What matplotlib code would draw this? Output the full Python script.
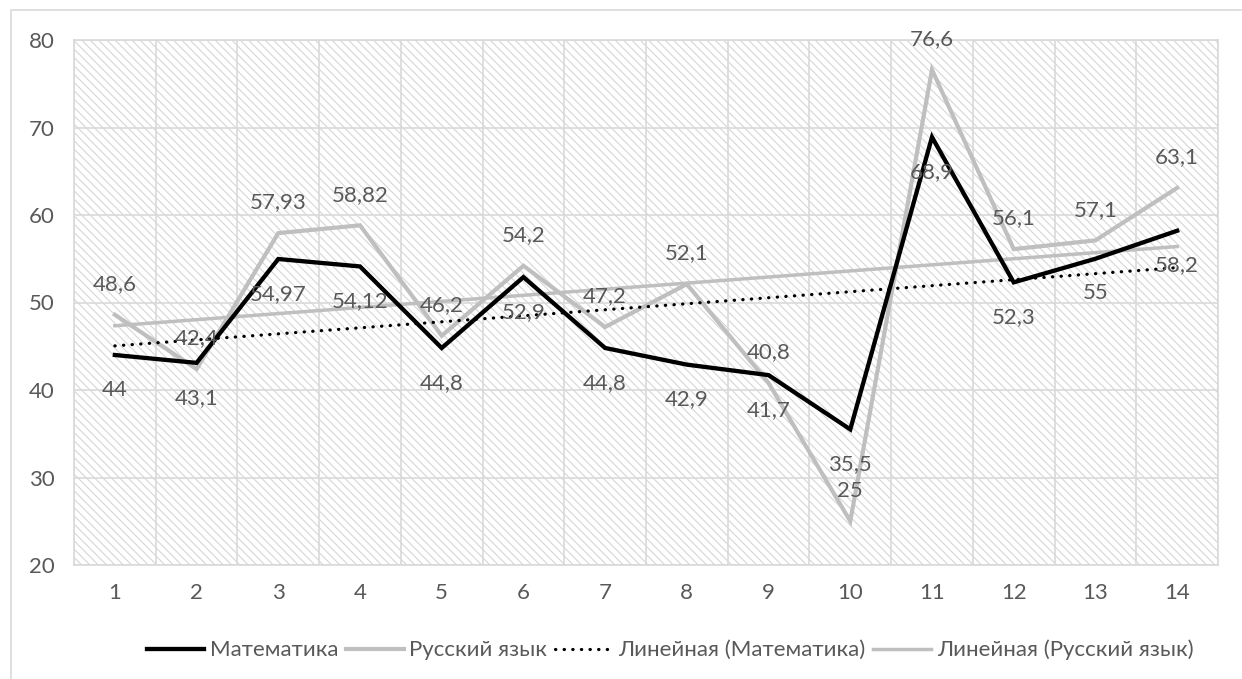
#coding:UTF-8
import numpy as np
import matplotlib
matplotlib.use('Agg')
import matplotlib.pyplot as plt
from matplotlib.patches import Rectangle

plt.rcParams['font.family'] = ['Lato', 'Open Sans', 'DejaVu Sans']
plt.rcParams['hatch.color'] = '#d6d6d6'
plt.rcParams['hatch.linewidth'] = 0.8

# данные
classes = list(range(1, 15))
math_vals = [44, 43.1, 54.97, 54.12, 44.8, 52.9, 44.8, 42.9, 41.7, 35.5, 68.9, 52.3, 55, 58.2]
rus_vals = [48.6, 42.4, 57.93, 58.82, 46.2, 54.2, 47.2, 52.1, 40.8, 25, 76.6, 56.1, 57.1, 63.1]
y_ticks = [20, 30, 40, 50, 60, 70, 80]
names = ['Математика', 'Русский язык', 'Линейная (Математика)', 'Линейная (Русский язык)']

txt = '#595959'
grid = '#d9d9d9'
gray = '#bfbfbf'
fs = 16


def fmt(v):
    return ('%g' % v).replace('.', ',')


W, H = 1242, 679
fig = plt.figure(figsize=(W / 100, H / 100), dpi=100)
ax = fig.add_axes([74 / W, (H - 565) / H, (1218 - 74) / W, (565 - 40) / H])

# заштрихованный фон
ax.set_facecolor('white')
ax.add_patch(Rectangle((0, 0), 1, 1, transform=ax.transAxes, facecolor='white',
                       edgecolor='#d6d6d6', hatch='\\\\\\\\', linewidth=0, zorder=0))

x = np.array(classes)
ax.plot(x, math_vals, color='black', lw=3.1, solid_joinstyle='miter', zorder=3, label=names[0])
ax.plot(x, rus_vals, color=gray, lw=3.0, solid_joinstyle='miter', zorder=2, label=names[1])

km, bm = np.polyfit(x, math_vals, 1)
kr, br = np.polyfit(x, rus_vals, 1)
ax.plot(x, km * x + bm, color='black', lw=2.3, linestyle=(0, (0.1, 2.6)),
        dash_capstyle='round', zorder=4, label=names[2])
ax.plot(x, kr * x + br, color=gray, lw=2.5, zorder=2.5, label=names[3])

for xi, v in zip(x, rus_vals):
    ax.annotate(fmt(v), (xi, v), xytext=(0, 22), textcoords='offset points',
                ha='center', va='center', fontsize=fs, color=txt, zorder=5)
for xi, v in zip(x, math_vals):
    ax.annotate(fmt(v), (xi, v), xytext=(0, -25), textcoords='offset points',
                ha='center', va='center', fontsize=fs, color=txt, zorder=5)

ax.set_xlim(0.5, 14.5)
ax.set_ylim(20, 80)
ax.set_xticks(classes)
ax.set_xticks(np.arange(0.5, 15, 1), minor=True)
ax.set_yticks(y_ticks)
ax.tick_params(which='both', length=0, labelsize=fs, colors=txt)
ax.tick_params(axis='x', pad=13)
ax.tick_params(axis='y', pad=14)
ax.grid(which='minor', axis='x', color=grid, lw=1.2, zorder=1)
ax.grid(which='major', axis='y', color=grid, lw=1.2, zorder=1)
ax.set_axisbelow(True)
for s in ax.spines.values():
    s.set_color(grid)
    s.set_linewidth(1.2)

leg = fig.legend(loc='center', bbox_to_anchor=(670 / W, 29 / H), ncol=4, frameon=False,
                 fontsize=fs, handlelength=2.6, columnspacing=0.35, handletextpad=0.25)
for t in leg.get_texts():
    t.set_color(txt)

# рамка диаграммы
fig.patches.append(Rectangle((11 / W, -0.05), 1.2, (H - 10) / H + 0.05, transform=fig.transFigure,
                             fill=False, edgecolor=grid, lw=1.2))

plt.savefig('out.png', dpi=100)
